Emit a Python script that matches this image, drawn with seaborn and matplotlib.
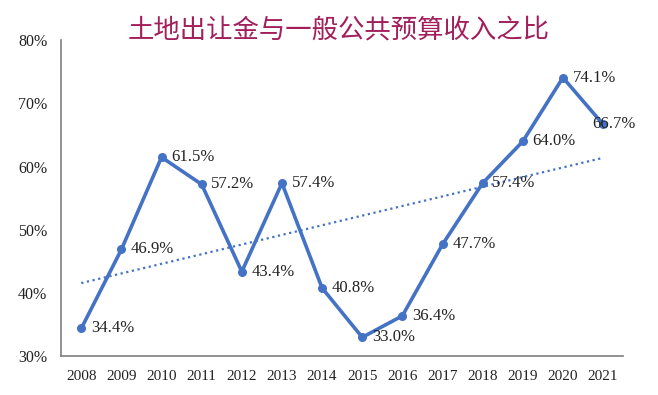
import matplotlib
matplotlib.use("Agg")
import matplotlib.pyplot as plt
import numpy as np
import pandas as pd
import seaborn as sns

# data
years = ["2008", "2009", "2010", "2011", "2012", "2013", "2014",
         "2015", "2016", "2017", "2018", "2019", "2020", "2021"]
ratio = [34.4, 46.9, 61.5, 57.2, 43.4, 57.4, 40.8,
         33.0, 36.4, 47.7, 57.4, 64.0, 74.1, 66.7]
y_ticks = [30, 40, 50, 60, 70, 80]
title = "土地出让金与一般公共预算收入之比"

blue = "#4472C4"
grey = "#7f7f7f"

sns.set_theme(style="white")
plt.rcParams["font.family"] = ["Liberation Serif", "DejaVu Serif"]

df = pd.DataFrame({"year": years, "ratio": ratio, "pos": np.arange(len(years))})

# linear trend line, same as the spreadsheet trendline
slope, intercept = np.polyfit(df["pos"], df["ratio"], 1)
df["trend"] = intercept + slope * df["pos"]

fig = plt.figure(figsize=(6.58, 3.95), dpi=100)
ax = fig.add_axes([0.093, 0.098, 0.854, 0.80])

sns.lineplot(data=df, x="pos", y="trend", ax=ax, color=blue,
             linestyle=(0, (1, 1.6)), linewidth=1.6)
sns.lineplot(data=df, x="pos", y="ratio", ax=ax, color=blue, linewidth=2.6,
             marker="o", markersize=6.5, markeredgewidth=0)

for i, v in enumerate(ratio):
    dx = 7
    if years[i] == "2021":
        dx = -8
    ax.annotate(f"{v:.1f}%", (i, v), xytext=(dx, 0), textcoords="offset points",
                ha="left", va="center", fontsize=12, color="#222222")

ax.set_xlim(-0.5, len(years) - 0.5)
ax.set_ylim(30, 80)
ax.set_xticks(np.arange(len(years)))
ax.set_xticklabels(years)
ax.set_xticks(np.arange(len(years)) + 0.5, minor=True)
ax.set_yticks(y_ticks)
ax.set_yticklabels([f"{t}%" for t in y_ticks])
ax.tick_params(axis="x", which="major", length=0, pad=10, labelsize=11, labelcolor="#222222")
ax.tick_params(axis="x", which="minor", direction="in", length=4, color=grey, width=1)
ax.tick_params(axis="y", direction="in", length=4, color=grey, width=1, pad=10,
               labelsize=11.5, labelcolor="#222222")
ax.set_xlabel("")
ax.set_ylabel("")

for side in ["top", "right"]:
    ax.spines[side].set_visible(False)
for side in ["left", "bottom"]:
    ax.spines[side].set_color(grey)
    ax.spines[side].set_linewidth(1.2)

fig.text(0.515, 0.924, title, ha="center", va="center", fontsize=19, color="#A21F5C",
         family=["Noto Sans CJK SC", "DejaVu Sans"])

fig.savefig("out.png", dpi=100)
